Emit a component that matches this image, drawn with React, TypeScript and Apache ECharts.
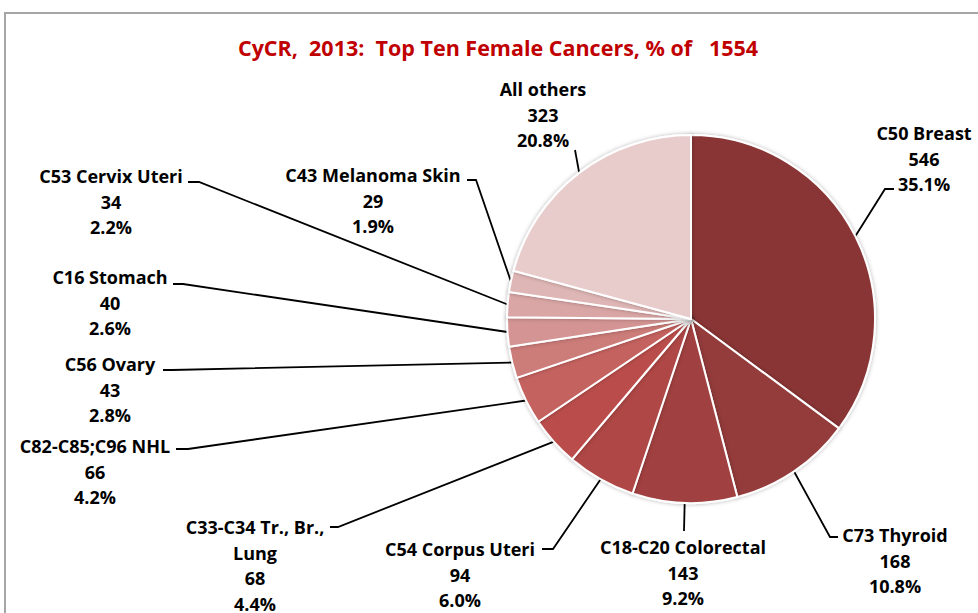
import React, { useEffect, useRef } from "react";
import * as echarts from "echarts";

const categories = [
  "C50 Breast",
  "C73 Thyroid",
  "C18-C20 Colorectal",
  "C54 Corpus Uteri",
  "C33-C34 Tr., Br.,\nLung",
  "C82-C85;C96 NHL",
  "C56 Ovary",
  "C16 Stomach",
  "C53 Cervix Uteri",
  "C43 Melanoma Skin",
  "All others",
];
const counts = [546, 168, 143, 94, 68, 66, 43, 40, 34, 29, 323];
const total = 1554;
const titleText = "CyCR,  2013:  Top Ten Female Cancers, % of   " + total;

const sliceColors = [
  "#8A3536",
  "#943B3A",
  "#A14140",
  "#AE4745",
  "#BA4E4B",
  "#C4625F",
  "#CC7B79",
  "#D39493",
  "#D9A6A5",
  "#DEB6B5",
  "#E8CCCC",
];

// label layout: [centerX, firstLineCenterY, elbowX, elbowY, endX, endY]
const labelPlacement: number[][] = [
  [924, 133, 885, 189, 894, 189],
  [895, 535, 830, 537, 838, 537],
  [683, 547, 684, 531, 684, 531],
  [460, 549, 553, 549, 542, 549],
  [255, 527, 338, 527, 330, 527],
  [95, 446, 188, 449, 176, 449],
  [110, 364, 172, 370, 163, 370],
  [110, 277, 183, 284, 173, 284],
  [111, 176, 199, 182, 188, 182],
  [373, 175, 476, 180, 467, 180],
  [543, 89, 575, 150, 575, 150],
];

const LINE_H = 25.5;

export default function App() {
  const ref = useRef<HTMLDivElement>(null);
  useEffect(() => {
    if (!ref.current) return;
    const chart = echarts.init(ref.current, null, { renderer: "svg" });
    chart.setOption({
      animation: false,
      backgroundColor: "#ffffff",
      graphic: [
        {
          type: "rect",
          shape: { x: 5, y: 13, width: 1100, height: 700 },
          style: { fill: "none", stroke: "#A6A6A6", lineWidth: 2 },
          silent: true,
          z: 0,
        },
        {
          type: "text",
          x: 498,
          y: 47,
          style: {
            text: titleText,
            fill: "#C00000",
            font: "bold 21.5px 'Open Sans', sans-serif",
            align: "center",
            verticalAlign: "middle",
          },
          z: 10,
        },
      ],
      series: [
        {
          type: "pie",
          center: [691, 319],
          radius: 184,
          startAngle: 90,
          clockwise: true,
          percentPrecision: 1,
          avoidLabelOverlap: false,
          silent: true,
          itemStyle: {
            borderColor: "#ffffff",
            borderWidth: 2,
            shadowBlur: 4,
            shadowColor: "rgba(0,0,0,0.3)",
          },
          label: {
            show: true,
            position: "outside",
            formatter: (p: any) => `${p.name}\n${p.value}\n${p.percent.toFixed(1)}%`,
            color: "#000000",
            fontFamily: "'Open Sans', sans-serif",
            fontWeight: "bold",
            fontSize: 18,
            lineHeight: LINE_H,
            align: "center",
          },
          labelLine: {
            show: true,
            lineStyle: { color: "#000000", width: 1.8 },
          },
          labelLayout: (params: any) => {
            const lp = labelPlacement[params.dataIndex];
            const anchor = params.labelLinePoints
              ? params.labelLinePoints[0]
              : [lp[2], lp[3]];
            return {
              x: lp[0],
              y: lp[1] - LINE_H / 2,
              align: "center",
              verticalAlign: "top",
              labelLinePoints: [anchor, [lp[2], lp[3]], [lp[4], lp[5]]],
            };
          },
          data: categories.map((name, i) => ({
            name,
            value: counts[i],
            itemStyle: { color: sliceColors[i] },
          })),
        },
      ],
    });
    return () => chart.dispose();
  }, []);
  return (
    <div
      ref={ref}
      style={{ position: "fixed", left: 0, top: 0, width: 978, height: 613 }}
    />
  );
}
